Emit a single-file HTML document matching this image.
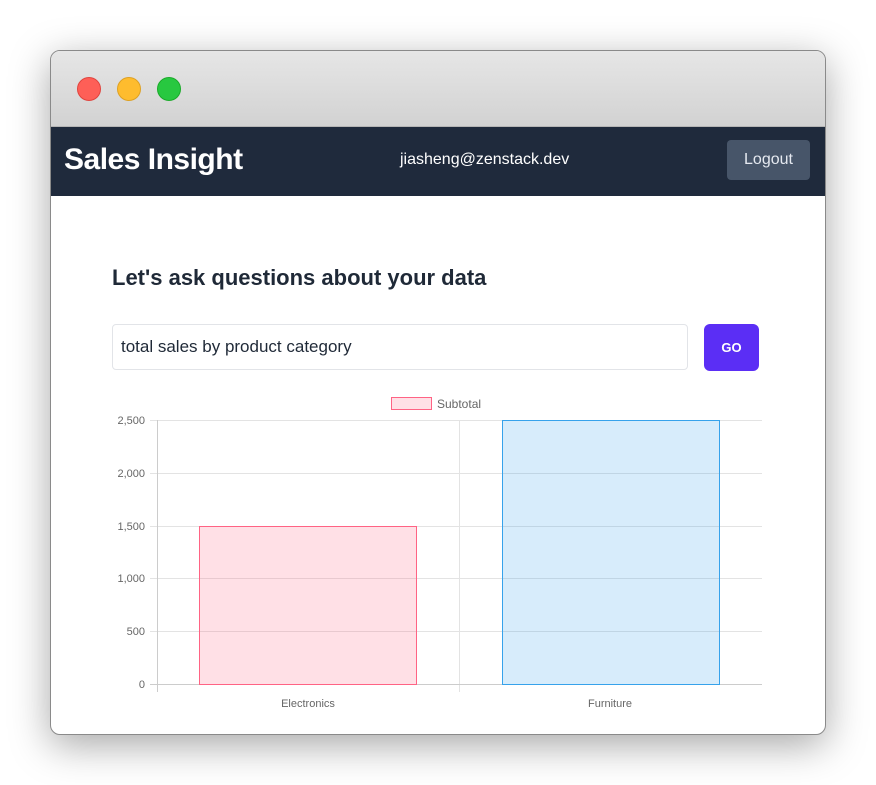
<!DOCTYPE html>
<html><head><style>
body{margin:0;width:876px;height:785px;background:#fff;font-family:"Liberation Sans",sans-serif;position:relative;overflow:hidden}
.win{position:absolute;left:50px;top:50px;width:774px;height:683px;border:1px solid #8a8a8a;border-radius:10px;overflow:hidden;background:#fff;box-shadow:0 10px 40px rgba(0,0,0,0.35)}
.tb{position:absolute;left:0;top:0;width:100%;height:75px;background:linear-gradient(#e6e6e6,#d2d2d2);border-bottom:1px solid #b5b5b5}
.c{position:absolute;top:26px;width:23px;height:23px;border-radius:50%}
.nav{position:absolute;left:0;top:76px;width:100%;height:69px;background:#1f2a3c;color:#fff}
</style></head><body>
<div class="win">
<div class="tb">
<div class="c" style="left:26px;background:#fe5f57;border:1px solid #e0443e;width:22px;height:22px"></div>
<div class="c" style="left:66px;background:#febc2e;border:1px solid #dea123;width:22px;height:22px"></div>
<div class="c" style="left:106px;background:#28c840;border:1px solid #1aab29;width:22px;height:22px"></div>
</div>
<div class="nav">
<div style="position:absolute;left:13px;top:16px;font-size:30px;font-weight:bold;letter-spacing:-0.5px">Sales Insight</div>
<div style="position:absolute;left:349px;top:24px;font-size:16px">jiasheng@zenstack.dev</div>
<div style="position:absolute;left:676px;top:13px;width:83px;height:40px;background:#475569;border-radius:4px;font-size:16px;line-height:40px;text-align:center;color:#e5e9f0">Logout</div>
</div>
<div style="position:absolute;left:61px;top:214px;font-size:22px;font-weight:bold;color:#1f2937">Let's ask questions about your data</div>
<div style="position:absolute;left:61px;top:273px;width:566px;height:44px;border:1px solid #e2e4e8;border-radius:4px;font-size:17px;line-height:44px;padding-left:8px;color:#1f2937">total sales by product category</div>
<div style="position:absolute;left:653px;top:273px;width:55px;height:47px;background:#5b2ef5;border-radius:6px;color:#fff;font-size:13px;font-weight:bold;text-align:center;line-height:47px">GO</div>
</div>
<svg style="position:absolute;left:0;top:0" width="876" height="785" font-family="Liberation Sans,sans-serif" font-size="11" fill="#666">
<rect x="391.5" y="397.5" width="40" height="12" fill="#ffe0e6" stroke="#ff6384"/>
<text x="437" y="408" font-size="12">Subtotal</text>
<g stroke="#e3e3e3" stroke-width="1">
<line x1="150" y1="420.5" x2="762" y2="420.5"/>
<line x1="150" y1="473.5" x2="762" y2="473.5"/>
<line x1="150" y1="526.5" x2="762" y2="526.5"/>
<line x1="150" y1="578.5" x2="762" y2="578.5"/>
<line x1="150" y1="631.5" x2="762" y2="631.5"/>
<line x1="459.5" y1="420" x2="459.5" y2="692"/>
</g>
<line x1="150" y1="684.5" x2="762" y2="684.5" stroke="#ccc"/>
<line x1="157.5" y1="420" x2="157.5" y2="692" stroke="#ccc"/>
<rect x="199.5" y="526.5" width="217" height="158" fill="rgba(255,99,132,0.2)" stroke="#ff6384"/>
<rect x="502.5" y="420.5" width="217" height="264" fill="rgba(54,162,235,0.2)" stroke="#36a2eb"/>
<g text-anchor="end">
<text x="145" y="424">2,500</text><text x="145" y="477">2,000</text><text x="145" y="530">1,500</text>
<text x="145" y="582">1,000</text><text x="145" y="635">500</text><text x="145" y="688">0</text>
</g>
<text x="308" y="707" text-anchor="middle">Electronics</text>
<text x="610" y="707" text-anchor="middle">Furniture</text>
</svg>
</body></html>
